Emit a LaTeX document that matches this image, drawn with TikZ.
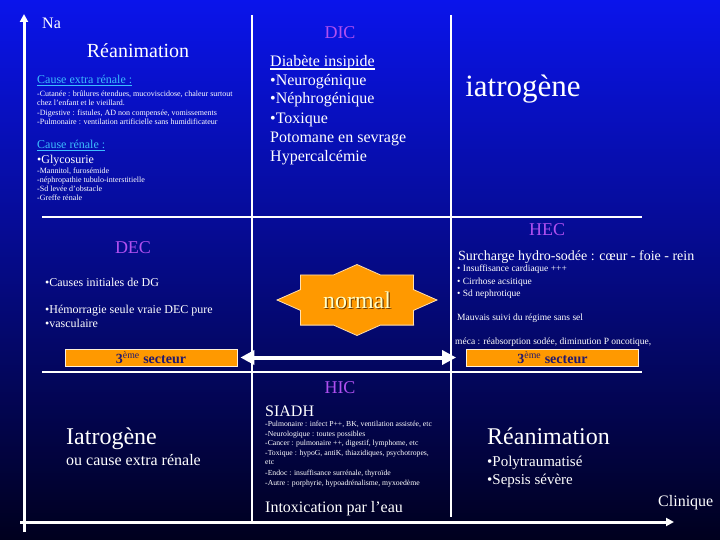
\documentclass[tikz,border=0pt]{standalone}
\usepackage{fontspec}
\setmainfont{Liberation Serif}
\usetikzlibrary{arrows.meta}
\definecolor{bgtop}{RGB}{10,20,235}
\definecolor{bgmid}{RGB}{8,18,200}
\definecolor{bgbot}{RGB}{0,0,30}
\definecolor{violetT}{RGB}{176,80,240}
\definecolor{cyanT}{RGB}{60,190,255}
\definecolor{orangeB}{RGB}{255,153,0}
\definecolor{navyT}{RGB}{35,25,110}
\definecolor{creamT}{RGB}{255,255,200}
\definecolor{shadowT}{RGB}{110,60,0}
\newcommand\fsz[1]{\fontsize{#1}{#1}\selectfont}
\begin{document}
\begin{tikzpicture}[x=1pt,y=-1pt,
  txt/.style={text=white,inner sep=0pt,anchor=base west},
  ctxt/.style={text=white,inner sep=0pt,anchor=base},
  title/.style={text=violetT,inner sep=0pt,anchor=base,font=\fsz{18}},
  tiny/.style={txt,font=\fsz{8}},
  tinyb/.style={txt,font=\fsz{7.7}},
  small/.style={txt,font=\fsz{9.5}},
  mid/.style={txt,font=\fsz{12}},
  big/.style={txt,font=\fsz{16}},
  huge/.style={txt,font=\fsz{24}},
  cyanlab/.style={txt,text=cyanT,font=\fsz{12}},
  gridline/.style={draw=white,line width=1.1pt},
  axis/.style={draw=white,line width=3pt,-{Triangle[length=8pt,width=8pt]}},
  bigarrow/.style={draw=white,line width=4pt,{Triangle[length=14pt,width=14pt]}-{Triangle[length=14pt,width=14pt]}},
  sectbox/.style={fill=orangeB,draw=white!85!orangeB,line width=0.8pt,minimum width=172pt,minimum height=17pt,inner sep=0pt,text=navyT,font=\fsz{14}\bfseries}
]
\useasboundingbox (0,0) rectangle (720,540);
\shade[top color=bgtop,middle color=bgmid,bottom color=bgbot] (0,0) rectangle (720,540);

% grid lines
\coordinate (h1a) at (42,217); \coordinate (h1b) at (642,217);
\coordinate (h2a) at (42,372); \coordinate (h2b) at (642,372);
\coordinate (v1a) at (252,15); \coordinate (v1b) at (252,522);
\coordinate (v2a) at (451,15); \coordinate (v2b) at (451,517);
\draw[gridline] (h1a) -- (h1b);
\draw[gridline] (h2a) -- (h2b);
\draw[gridline] (v1a) -- (v1b);
\draw[gridline] (v2a) -- (v2b);

% axes
\coordinate (yo) at (24,532); \coordinate (yt) at (24,14);
\coordinate (xo) at (20,522); \coordinate (xt) at (674,522);
\draw[axis] (yo) -- (yt);
\draw[axis] (xo) -- (xt);
\node[big] (na) at (42,29) {Na};
\node[big] (clin) at (658,506) {Clinique};

% top-left cell
\node[ctxt,font=\fsz{20}] (rea1) at (138,58) {Réanimation};
\node[cyanlab] (cer) at (37,84) {\underline{Cause extra rénale :}};
\node[tiny] (t1) at (37,97) {-Cutanée : brûlures étendues, mucoviscidose, chaleur surtout};
\node[tiny] (t2) at (37,106) {chez l’enfant et le vieillard.};
\node[tiny] (t3) at (37,116) {-Digestive : fistules, AD non compensée, vomissements};
\node[tiny] (t4) at (37,125) {-Pulmonaire : ventilation artificielle sans humidificateur};
\node[cyanlab] (cr) at (37,149) {\underline{Cause rénale :}};
\node[mid] (gly) at (37,164) {•Glycosurie};
\node[tiny] (t5) at (37,174) {-Mannitol, furosémide};
\node[tiny] (t6) at (37,183) {-néphropathie tubulo-interstitielle};
\node[tiny] (t7) at (37,192) {-Sd levée d’obstacle};
\node[tiny] (t8) at (37,201) {-Greffe rénale};

% top-middle cell
\node[title] (dic) at (340,39) {DIC};
\node[big] (di) at (270,67) {Diabète insipide};
\draw[white,line width=1.6pt] ([yshift=-2.2pt]di.base west) -- ([yshift=-2.2pt]di.base east);
\node[big] (d1) at (270,86) {•Neurogénique};
\node[big] (d2) at (270,104) {•Néphrogénique};
\node[big] (d3) at (270,124) {•Toxique};
\node[big] (d4) at (270,143) {Potomane en sevrage};
\node[big] (d5) at (270,162) {Hypercalcémie};

% top-right cell
\node[ctxt,font=\fsz{31}] (iat1) at (523,97) {iatrogène};

% middle-left cell
\node[title] (dec) at (133,254) {DEC};
\node[mid] (e1) at (45,286) {•Causes initiales de DG};
\node[mid] (e2) at (45,313) {•Hémorragie seule vraie DEC pure};
\node[mid] (e3) at (45,327) {•vasculaire};

% normal star
\fill[orangeB,draw=white!70!orangeB,line width=0.8pt]
  (437,300) -- (413.5,289.6) -- (413.6,274.9) -- (380.4,274.9) -- (357,264.5) -- (333.6,274.9)
  -- (300.4,274.9) -- (300.5,289.6) -- (277,300) -- (300.5,310.4) -- (300.4,325.1) -- (333.6,325.1)
  -- (357,335.5) -- (380.4,325.1) -- (413.6,325.1) -- (413.5,310.4) -- cycle;
\node[inner sep=0pt,text=shadowT,font=\fsz{24}] at (358.2,301.2) {normal};
\node[inner sep=0pt,text=creamT,font=\fsz{24}] (normal) at (357,300) {normal};

% middle-right cell
\node[title] (hec) at (547,236) {HEC};
\node[txt,font=\fsz{14}] (sur) at (458,260) {Surcharge hydro-sodée : cœur - foie - rein};
\node[small] (h1) at (457,271) {• Insuffisance cardiaque +++};
\node[small] (h2) at (457,284) {• Cirrhose acsitique};
\node[small] (h3) at (457,296) {• Sd nephrotique};
\node[small] (h4) at (457,320) {Mauvais suivi du régime sans sel};
\node[small] (h5) at (455,344) {méca : réabsorption sodée, diminution P oncotique,};

% 3eme secteur boxes and arrow
\node[sectbox] (sectL) at (151,357.5) {3\textsuperscript{\normalfont ème} secteur};
\node[sectbox] (sectR) at (552.5,357.5) {3\textsuperscript{\normalfont ème} secteur};
\draw[bigarrow] ([xshift=3pt]sectL.east) -- ([xshift=-10pt]sectR.west);

% bottom-left cell
\node[huge] (iat2) at (66,444) {Iatrogène};
\node[big] (ou) at (66,465) {ou cause extra rénale};

% bottom-middle cell
\node[title] (hic) at (340,393) {HIC};
\node[big] (siadh) at (265,416) {SIADH};
\node[tinyb] (s1) at (265,426) {-Pulmonaire : infect P++, BK, ventilation assistée, etc};
\node[tinyb] (s2) at (265,436) {-Neurologique : toutes possibles};
\node[tinyb] (s3) at (265,445) {-Cancer : pulmonaire ++, digestif, lymphome, etc};
\node[tinyb] (s4) at (265,455) {-Toxique : hypoG, antiK, thiazidiques, psychotropes,};
\node[tinyb] (s5) at (265,464) {etc};
\node[tinyb] (s6) at (265,475) {-Endoc : insuffisance surrénale, thyroïde};
\node[tinyb] (s7) at (265,485) {-Autre : porphyrie, hypoadrénalisme, myxoedème};
\node[big] (intox) at (265,512) {Intoxication par l’eau};

% bottom-right cell
\node[huge] (rea2) at (487,444) {Réanimation};
\node[txt,font=\fsz{15}] (p1) at (487,466) {•Polytraumatisé};
\node[txt,font=\fsz{15}] (p2) at (487,484) {•Sepsis sévère};
\end{tikzpicture}
\end{document}
